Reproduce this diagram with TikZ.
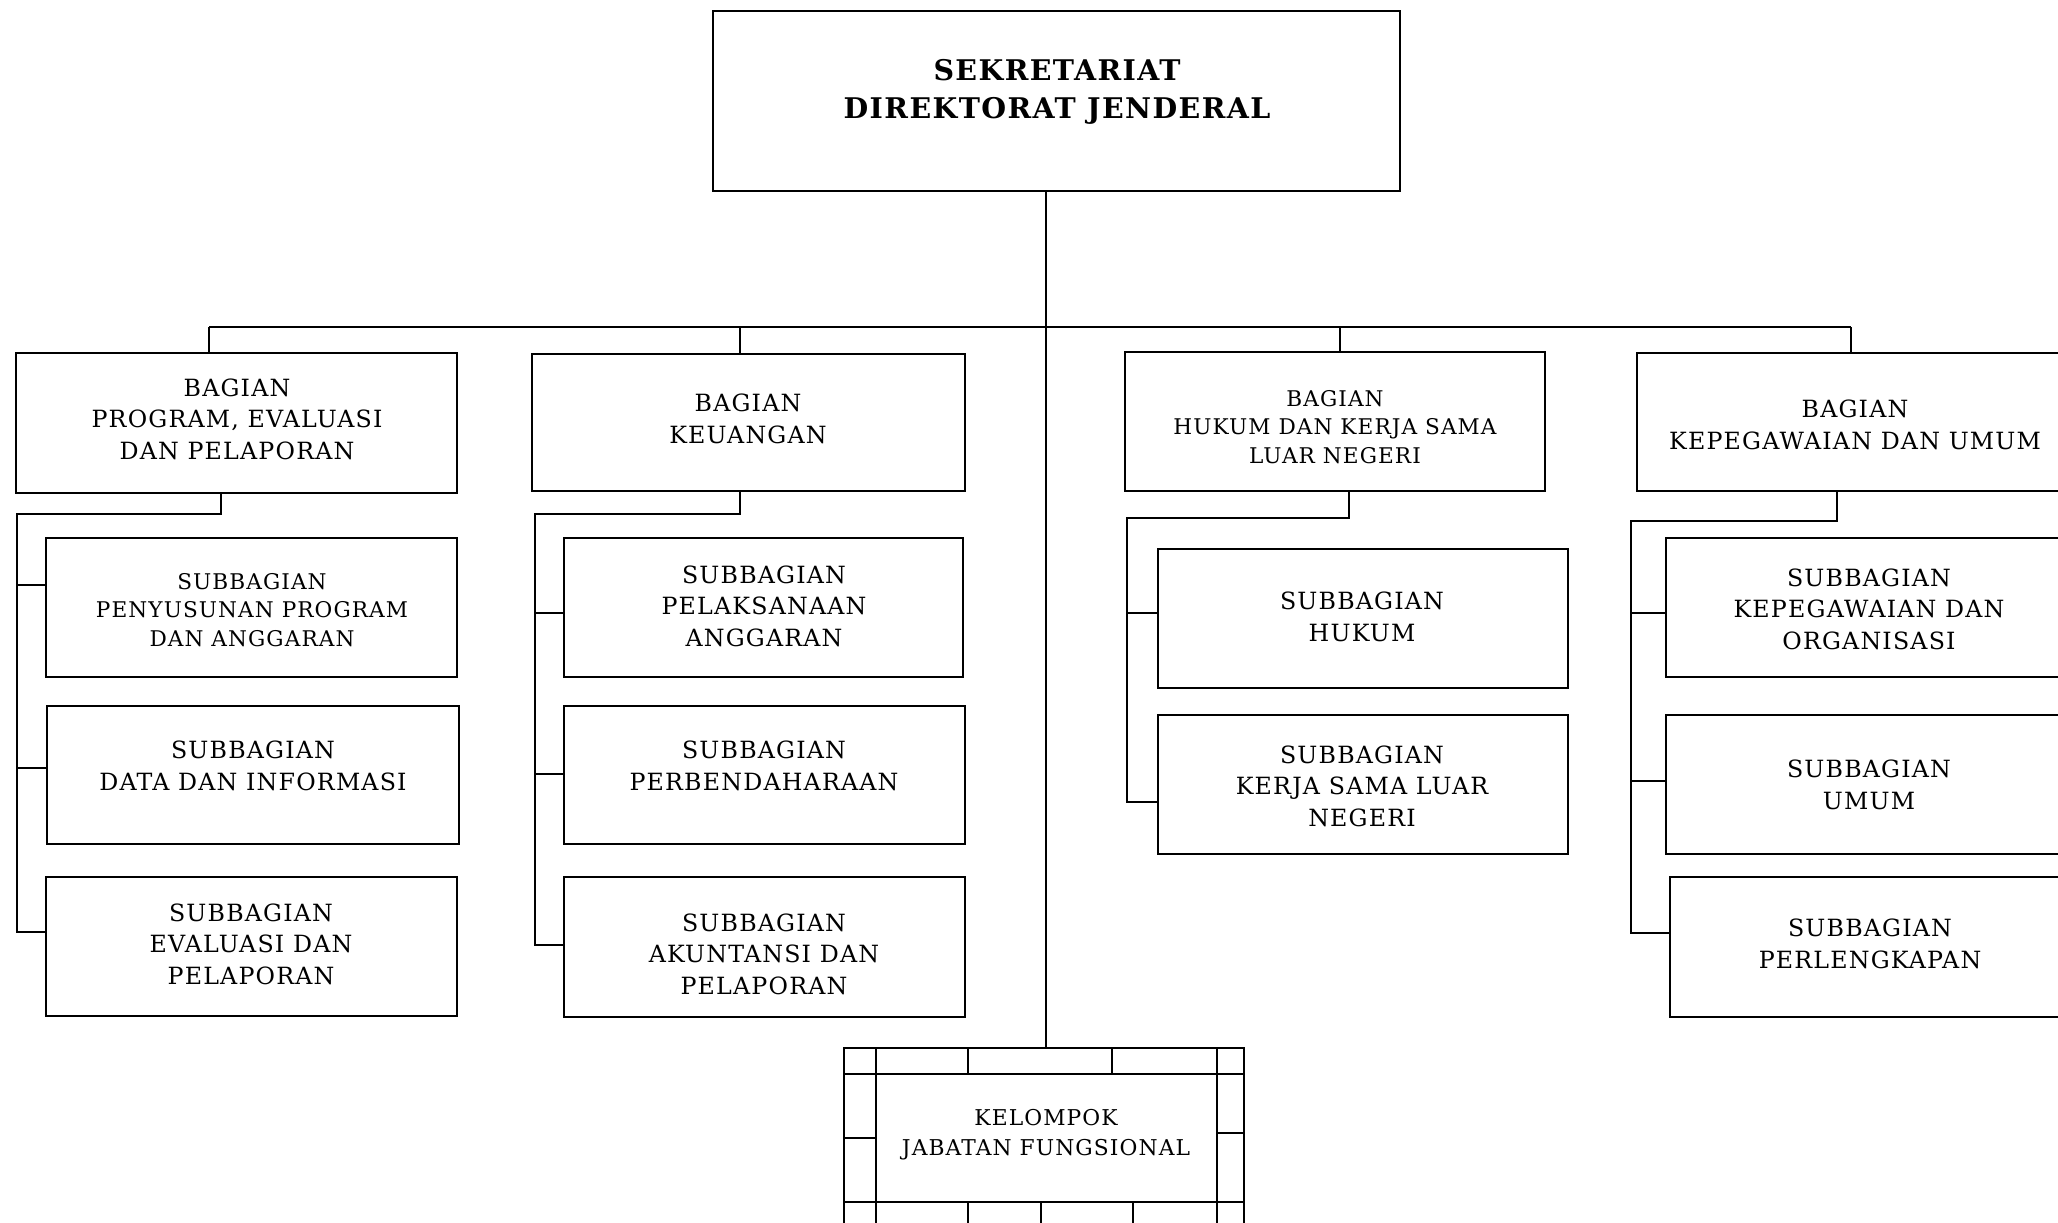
\documentclass[tikz,border=0pt]{standalone}
\usepackage{fontspec}
\setmainfont{DejaVu Serif}[LetterSpace=5]
\begin{document}
% one unit = one pixel of a 2058 x 1223 sheet, y grows downwards
\newcommand\orgbox[5]{%
  \node[box, minimum width={(#4-#2)*0.02cm}, minimum height={(#5-#3)*0.02cm}]
    (#1) at ({(#2+#4)/2},{(#3+#5)/2}) {};}
\begin{tikzpicture}[x=0.02cm, y=-0.02cm, line width=1pt,
  box/.style={draw, rectangle, inner sep=0pt, outer sep=0pt},
  lbl/.style={align=center, inner sep=0pt, font=\fontsize{13.5}{17.9}\selectfont},
  lblsm/.style={align=center, inner sep=0pt, font=\fontsize{12.3}{16.4}\selectfont},
  lblfn/.style={align=center, inner sep=0pt, font=\fontsize{12.4}{17.2}\selectfont},
  ttl/.style={align=center, inner sep=0pt, font=\fontsize{16.2}{21.6}\selectfont\bfseries},
  link/.style={draw, line width=1pt}]
\fill[white] (0,0) rectangle (2058,1223);
\useasboundingbox (0,0) rectangle (2058,1223);
\clip (0,0) rectangle (2058,1223);

% ---- boxes ----
\orgbox{top}{713}{11}{1400}{191}
\orgbox{B1}{16}{353}{457}{493}
\orgbox{B2}{532}{354}{965}{491}
\orgbox{B3}{1125}{352}{1545}{491}
\orgbox{B4}{1637}{353}{2073}{491}
\orgbox{S1a}{46}{538}{457}{677}
\orgbox{S1b}{47}{706}{459}{844}
\orgbox{S1c}{46}{877}{457}{1016}
\orgbox{S2a}{564}{538}{963}{677}
\orgbox{S2b}{564}{706}{965}{844}
\orgbox{S2c}{564}{877}{965}{1017}
\orgbox{S3a}{1158}{549}{1568}{688}
\orgbox{S3b}{1158}{715}{1568}{854}
\orgbox{S4a}{1666}{538}{2073}{677}
\orgbox{S4b}{1666}{715}{2073}{854}
\orgbox{S4c}{1670}{877}{2073}{1017}
\orgbox{kjfframe}{844}{1048}{1244}{1240}
\orgbox{kjf}{876}{1074}{1217}{1202}

% ---- labels ----
\node[ttl]   at (1057,92) {SEKRETARIAT\\DIREKTORAT JENDERAL};
\node[lbl]   at (237,419) {BAGIAN\\PROGRAM, EVALUASI\\DAN PELAPORAN};
\node[lbl]   at (748,419) {BAGIAN\\KEUANGAN};
\node[lblsm] at (1335,427) {BAGIAN\\HUKUM DAN KERJA SAMA\\LUAR NEGERI};
\node[lbl]   at (1855,425) {BAGIAN\\KEPEGAWAIAN DAN UMUM};
\node[lblsm] at (252,610) {SUBBAGIAN\\PENYUSUNAN PROGRAM\\DAN ANGGARAN};
\node[lbl]   at (253,766) {SUBBAGIAN\\DATA DAN INFORMASI};
\node[lbl]   at (251,944) {SUBBAGIAN\\EVALUASI DAN\\PELAPORAN};
\node[lbl]   at (764,606) {SUBBAGIAN\\PELAKSANAAN\\ANGGARAN};
\node[lbl]   at (764,766) {SUBBAGIAN\\PERBENDAHARAAN};
\node[lbl]   at (764,954) {SUBBAGIAN\\AKUNTANSI DAN\\PELAPORAN};
\node[lbl]   at (1362,617) {SUBBAGIAN\\HUKUM};
\node[lbl]   at (1362,786) {SUBBAGIAN\\KERJA SAMA LUAR\\NEGERI};
\node[lbl]   at (1869,609) {SUBBAGIAN\\KEPEGAWAIAN DAN\\ORGANISASI};
\node[lbl]   at (1869,785) {SUBBAGIAN\\UMUM};
\node[lbl]   at (1870,944) {SUBBAGIAN\\PERLENGKAPAN};
\node[lblfn] at (1046,1135) {KELOMPOK\\JABATAN FUNGSIONAL};

% ---- grid round the functional group ----
\draw (kjfframe.west |- kjf.north) -- (kjfframe.east |- kjf.north);
\draw (kjfframe.west |- kjf.south) -- (kjfframe.east |- kjf.south);
\draw (kjf.west |- kjfframe.north) -- (kjf.west |- kjfframe.south);
\draw (kjf.east |- kjfframe.north) -- (kjf.east |- kjfframe.south);
\draw (968,1048) -- (968,1074) (1112,1048) -- (1112,1074);
\draw (968,1202) -- (968,1240) (1041,1202) -- (1041,1240) (1133,1202) -- (1133,1240);
\draw (844,1138) -- (876,1138) (1217,1133) -- (1244,1133);

% ---- main trunk and bus ----
\coordinate (busL) at (209,327);
\coordinate (busR) at (1851,327);
\coordinate (trunk) at (1046,327);
\draw[link] (trunk |- top.south) -- (trunk |- kjfframe.north);
\draw[link] (busL) -- (busR);
\draw[link] (busL) -- (busL |- B1.north);
\draw[link] (busR) -- (busR |- B4.north);
\coordinate (d2) at (740,327);
\coordinate (d3) at (1340,327);
\draw[link] (d2) -- (d2 |- B2.north);
\draw[link] (d3) -- (d3 |- B3.north);

% ---- group 1 ----
\coordinate (g1a) at (221,514);
\coordinate (g1b) at (17,514);
\coordinate (g1c) at (17,932);
\draw[link] (g1a |- B1.south) -- (g1a) -- (g1b) -- (g1c) -- (g1c -| S1c.west);
\coordinate (g1s1) at (17,585);
\coordinate (g1s2) at (17,768);
\draw[link] (g1s1) -- (g1s1 -| S1a.west);
\draw[link] (g1s2) -- (g1s2 -| S1b.west);

% ---- group 2 ----
\coordinate (g2a) at (740,514);
\coordinate (g2b) at (535,514);
\coordinate (g2c) at (535,945);
\draw[link] (g2a |- B2.south) -- (g2a) -- (g2b) -- (g2c) -- (g2c -| S2c.west);
\coordinate (g2s1) at (535,613);
\coordinate (g2s2) at (535,774);
\draw[link] (g2s1) -- (g2s1 -| S2a.west);
\draw[link] (g2s2) -- (g2s2 -| S2b.west);

% ---- group 3 ----
\coordinate (g3a) at (1349,518);
\coordinate (g3b) at (1127,518);
\coordinate (g3c) at (1127,802);
\draw[link] (g3a |- B3.south) -- (g3a) -- (g3b) -- (g3c) -- (g3c -| S3b.west);
\coordinate (g3s1) at (1127,613);
\draw[link] (g3s1) -- (g3s1 -| S3a.west);

% ---- group 4 ----
\coordinate (g4a) at (1837,521);
\coordinate (g4b) at (1631,521);
\coordinate (g4c) at (1631,933);
\draw[link] (g4a |- B4.south) -- (g4a) -- (g4b) -- (g4c) -- (g4c -| S4c.west);
\coordinate (g4s1) at (1631,613);
\coordinate (g4s2) at (1631,781);
\draw[link] (g4s1) -- (g4s1 -| S4a.west);
\draw[link] (g4s2) -- (g4s2 -| S4b.west);
\end{tikzpicture}
\end{document}
